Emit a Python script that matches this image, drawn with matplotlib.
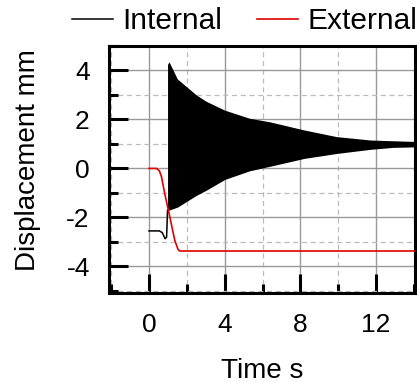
import numpy as np
import matplotlib.pyplot as plt
from matplotlib.ticker import MultipleLocator

# Internal: quiet part before the oscillation starts
t_pre = [0.0, 0.55, 0.7, 0.85, 0.93, 0.98]
d_pre = [-2.55, -2.55, -2.62, -2.87, -2.8, -1.7]

# Internal: envelope of the dense oscillation
t_env = [0.98, 1.06, 1.5, 2.5, 3.0, 4.0, 5.3, 6.4, 8.2, 9.9, 11.7, 12.9, 14.1]
env_top = [4.25, 4.35, 3.65, 3.0, 2.75, 2.38, 2.05, 1.9, 1.57, 1.3, 1.16, 1.13, 1.1]
env_bot = [-1.7, -1.7, -1.58, -1.1, -0.9, -0.45, -0.1, 0.09, 0.41, 0.61, 0.78, 0.86, 0.88]

# External
t_ext = [0.0, 0.4, 0.55, 0.66, 0.83, 1.1, 1.36, 1.53, 1.62, 14.1]
d_ext = [0.0, 0.0, -0.1, -0.34, -1.02, -1.98, -2.93, -3.3, -3.37, -3.37]

plt.rcParams['font.family'] = ['Liberation Sans', 'DejaVu Sans']
plt.rcParams['axes.unicode_minus'] = False

fig = plt.figure(figsize=(4.17, 3.83), dpi=100)
ax = fig.add_axes([0.262, 0.234, 0.733, 0.646])

ax.plot(t_pre, d_pre, color='k', lw=1.1, zorder=3, label='Internal')
ax.fill_between(t_env, env_bot, env_top, color='k', lw=0, zorder=3)
ax.plot(t_ext, d_ext, color='#e00000', lw=1.2, zorder=4, label='External')

ax.set_xlim(-2.1, 14.05)
ax.set_ylim(-5.1, 5.0)
ax.xaxis.set_major_locator(MultipleLocator(4))
ax.xaxis.set_minor_locator(MultipleLocator(2))
ax.yaxis.set_major_locator(MultipleLocator(2))
ax.yaxis.set_minor_locator(MultipleLocator(1))

ax.grid(which='major', color='#999999', lw=1.0, ls='-', zorder=1)
ax.grid(which='minor', color='#bbbbbb', lw=0.9, ls=(0, (4, 3)), zorder=1)

ax.tick_params(which='major', direction='in', length=14, width=2.2, labelsize=19, pad=14)
ax.tick_params(which='minor', direction='in', length=6.5, width=2.2)
for s in ax.spines.values():
    s.set_linewidth(2.2)

ax.set_xlabel('Time s', fontsize=20, labelpad=15)
ax.set_ylabel('Displacement mm', fontsize=20)
ax.yaxis.set_label_coords(-0.222, 0.54)

fig.legend(loc='center left', bbox_to_anchor=(0.136, 0.945), ncol=2, frameon=False,
           fontsize=21.5, handlelength=1.4, handletextpad=0.3, columnspacing=1.15,
           borderpad=0)

fig.savefig('out.png', dpi=100)
